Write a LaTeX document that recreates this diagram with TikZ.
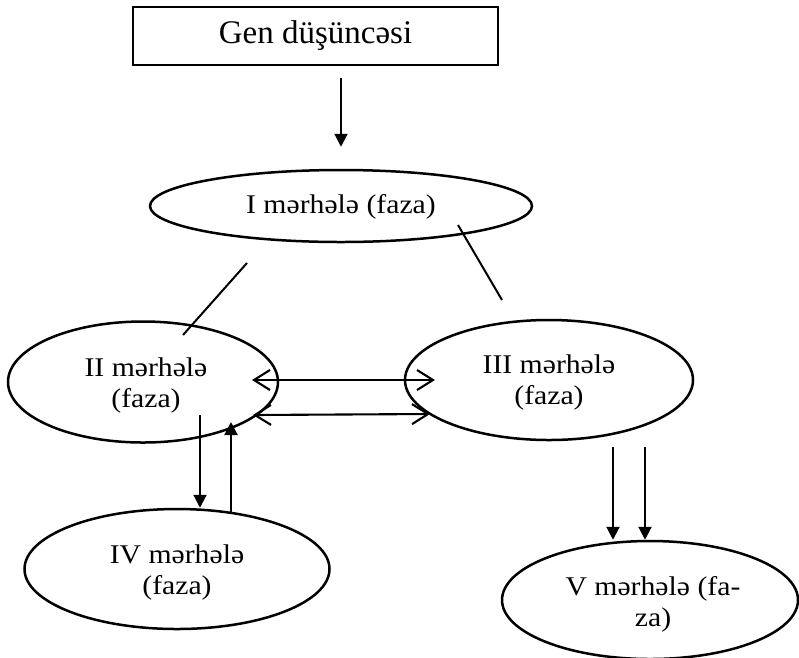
\documentclass[tikz,border=0pt]{standalone}
\usepackage{fontspec}
\setmainfont{Liberation Serif}
\newfontfamily\elfont[FakeStretch=1.1]{Liberation Serif}
\usetikzlibrary{arrows.meta,shapes.geometric}
\begin{document}
\begin{tikzpicture}[x=1pt,y=-1pt,
  phase/.style={ellipse, draw, line width=2.5pt, inner sep=0pt},
  ptext/.style={inner sep=0pt, align=center, font=\elfont\fontsize{27}{31}\selectfont},
  genbox/.style={draw, line width=2.4pt, inner sep=0pt, minimum width=365pt, minimum height=58pt,
    font=\fontsize{33}{38}\selectfont},
  tri/.style={line width=2.1pt, -{Triangle[length=13pt,width=13pt]}},
  barb/.style={line width=2.1pt, {Straight Barb[length=16pt,width=20pt]}-{Straight Barb[length=16pt,width=20pt]}},
  plain/.style={line width=2pt}]
\fill[white] (0,0) rectangle (799,657);
\useasboundingbox (0,0) rectangle (799,657);

\node[genbox] (gen) at (315.5,36) {Gen düşüncəsi};
\node[phase, minimum width=382pt, minimum height=72pt] (I) at (341,206) {};
\node[phase, minimum width=270pt, minimum height=121pt] (II) at (143,382) {};
\node[phase, minimum width=288pt, minimum height=120pt] (III) at (549,380) {};
\node[phase, minimum width=305pt, minimum height=120pt] (IV) at (177,569) {};
\node[phase, minimum width=296pt, minimum height=118pt] (V) at (650,600) {};

\node[ptext] (It) at ([yshift=-1pt]I.center) {I mərhələ (faza)};
\node[ptext] (IIt) at ([xshift=3pt,yshift=-3pt]II.center) {II mərhələ\\(faza)};
\node[ptext] (IIIt) at ([yshift=-2pt]III.center) {III mərhələ\\(faza)};
\node[ptext] (IVt) at ([yshift=-3pt]IV.center) {IV mərhələ\\(faza)};
\node[ptext] (Vt) at ([xshift=3pt,yshift=-4pt]V.center) {V mərhələ (fa-\\za)};

% Gen -> I
\draw[tri, shorten <=12pt, shorten >=22pt] (gen.south -| I.north) -- (I.north);

% I -- II, I -- III (free lines)
\coordinate (a1) at (247,263);
\coordinate (a2) at (183,335);
\coordinate (b1) at (458,225);
\coordinate (b2) at (502,300);
\draw[plain] (a1) -- (a2);
\draw[plain] (b1) -- (b2);

% II <-> III
\coordinate (h1) at (252,380);
\coordinate (h2) at (435,380);
\coordinate (h3) at (253,415);
\coordinate (h4) at (430,414);
\draw[barb] (h1) -- (h2);
\draw[barb] (h3) -- (h4);

% II <-> IV
\coordinate (d1) at (200,415);
\draw[tri] (d1) -- (d1 |- IV.north);
\coordinate (u1) at (231,512);
\coordinate (u2) at (231,422);
\draw[tri] (u1) -- (u2);

% III -> V
\coordinate (v1) at (613,447);
\coordinate (v2) at (645,447);
\draw[tri] (v1) -- (v1 |- V.north);
\draw[tri] (v2) -- (v2 |- V.north);
\end{tikzpicture}
\end{document}
